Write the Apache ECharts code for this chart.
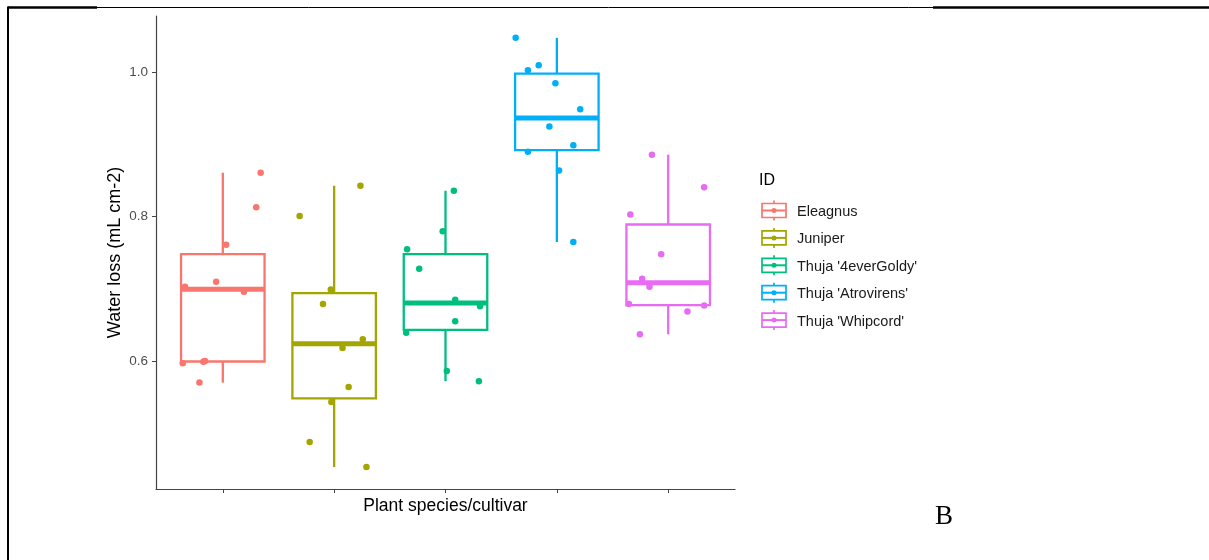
<!DOCTYPE html>
<html>
<head>
<meta charset="utf-8">
<script src="https://cdn.jsdelivr.net/npm/echarts@6/dist/echarts.min.js"></script>
<style>
  html, body { margin: 0; padding: 0; background: #fff; }
  #chart { width: 1209px; height: 560px; }
</style>
</head>
<body>
<div id="chart"></div>
<script>
// categories and colours (ggplot default hue palette)
var categories = ['Eleagnus', 'Juniper', "Thuja '4everGoldy'", "Thuja 'Atrovirens'", "Thuja 'Whipcord'"];
var colors = ['#F8766D', '#A3A500', '#00BF7D', '#00B0F6', '#E76BF3'];

// water loss per plant (mL cm-2)
var eleagnus   = [0.861, 0.813, 0.761, 0.703, 0.710, 0.696, 0.597, 0.599, 0.600, 0.570];
var juniper    = [0.843, 0.801, 0.699, 0.679, 0.630, 0.618, 0.564, 0.543, 0.4875, 0.453];
var goldy      = [0.836, 0.780, 0.755, 0.728, 0.685, 0.676, 0.655, 0.639, 0.586, 0.572];
var atrovirens = [1.048, 1.003, 1.010, 0.985, 0.949, 0.925, 0.899, 0.890, 0.864, 0.765];
var whipcord   = [0.886, 0.841, 0.803, 0.748, 0.714, 0.703, 0.679, 0.677, 0.6685, 0.637];

// horizontal jitter of each point (in category units)
var eleagnusJit   = [0.34, 0.30, 0.03, -0.34, -0.06, 0.19, -0.36, -0.175, -0.16, -0.21];
var juniperJit    = [0.236, -0.31, -0.03, -0.10, 0.257, 0.075, 0.13, -0.025, -0.22, 0.29];
var goldyJit      = [0.075, -0.025, -0.345, -0.236, 0.087, 0.31, 0.087, -0.353, 0.012, 0.30];
var atrovirensJit = [-0.37, -0.26, -0.163, -0.013, 0.21, -0.067, 0.148, -0.26, 0.02, 0.148];
var whipcordJit   = [-0.146, 0.323, -0.34, -0.063, -0.234, -0.168, -0.353, 0.323, 0.173, -0.254];

var yTicks = [0.6, 0.8, 1.0];

var groups = [eleagnus, juniper, goldy, atrovirens, whipcord];
var jitters = [eleagnusJit, juniperJit, goldyJit, atrovirensJit, whipcordJit];

// ggplot-style box stats (type 7 quantiles, whiskers to 1.5 IQR)
function quantile(sorted, p) {
  var h = (sorted.length - 1) * p;
  var lo = Math.floor(h);
  var hi = Math.ceil(h);
  return sorted[lo] + (h - lo) * (sorted[hi] - sorted[lo]);
}
function boxStats(vals) {
  var s = vals.slice().sort(function (a, b) { return a - b; });
  var q1 = quantile(s, 0.25), med = quantile(s, 0.5), q3 = quantile(s, 0.75);
  var iqr = q3 - q1;
  var low = s.filter(function (v) { return v >= q1 - 1.5 * iqr; })[0];
  var upIn = s.filter(function (v) { return v <= q3 + 1.5 * iqr; });
  var high = upIn[upIn.length - 1];
  return [low, q1, med, q3, high];
}

var boxData = [];
var series = [];
for (let i = 0; i < groups.length; i++) {
  var st = boxStats(groups[i]);
  boxData.push([i + 1, st[0], st[1], st[2], st[3], st[4], i]);
}

series.push({
  type: 'custom',
  silent: true,
  renderItem: function (params, api) {
    var x = api.value(0);
    var c = colors[api.value(6)];
    var half = 0.375;
    var pLow = api.coord([x, api.value(1)]);
    var pQ1 = api.coord([x, api.value(2)]);
    var pMed = api.coord([x, api.value(3)]);
    var pQ3 = api.coord([x, api.value(4)]);
    var pHigh = api.coord([x, api.value(5)]);
    var left = api.coord([x - half, api.value(3)])[0];
    var right = api.coord([x + half, api.value(3)])[0];
    var ls = { stroke: c, lineWidth: 2.3, fill: null };
    return {
      type: 'group',
      children: [
        { type: 'line', shape: { x1: pHigh[0], y1: pHigh[1], x2: pQ3[0], y2: pQ3[1] }, style: ls },
        { type: 'line', shape: { x1: pQ1[0], y1: pQ1[1], x2: pLow[0], y2: pLow[1] }, style: ls },
        { type: 'rect', shape: { x: left, y: pQ3[1], width: right - left, height: pQ1[1] - pQ3[1] }, style: ls },
        { type: 'line', shape: { x1: left, y1: pMed[1], x2: right, y2: pMed[1] }, style: { stroke: c, lineWidth: 5 } }
      ]
    };
  },
  data: boxData,
  z: 2
});

for (let i = 0; i < groups.length; i++) {
  var pts = [];
  for (let j = 0; j < groups[i].length; j++) {
    pts.push([i + 1 + jitters[i][j], groups[i][j]]);
  }
  series.push({
    name: categories[i],
    type: 'scatter',
    data: pts,
    symbolSize: 6.5,
    itemStyle: { color: colors[i], opacity: 1 },
    silent: true,
    z: 3
  });
}

// legend built by hand so the key looks like a small boxplot
var graphics = [
  // frame lines of the page
  { type: 'line', shape: { x1: 8, y1: 7.5, x2: 1209, y2: 7.5 }, style: { stroke: '#000', lineWidth: 1 } },
  { type: 'line', shape: { x1: 8, y1: 7.5, x2: 97, y2: 7.5 }, style: { stroke: '#000', lineWidth: 2.5 } },
  { type: 'line', shape: { x1: 933, y1: 7.5, x2: 1209, y2: 7.5 }, style: { stroke: '#000', lineWidth: 2.5 } },
  { type: 'line', shape: { x1: 8, y1: 6.5, x2: 8, y2: 560 }, style: { stroke: '#000', lineWidth: 2 } },
  { type: 'text', left: 935, top: 503, style: { text: 'B', font: '27px "Liberation Serif", serif', fill: '#000' } },
  { type: 'text', x: 759, y: 181, style: { text: 'ID', font: '16px "Liberation Sans", Arial, sans-serif', fill: '#000', verticalAlign: 'middle' } }
];
for (let i = 0; i < categories.length; i++) {
  var cy = 210.5 + i * 27.4;
  var c = colors[i];
  graphics.push(
    { type: 'line', shape: { x1: 774, y1: cy - 10, x2: 774, y2: cy + 10 }, style: { stroke: c, lineWidth: 1.7 } },
    { type: 'rect', shape: { x: 762, y: cy - 7, width: 24, height: 14 }, style: { stroke: c, lineWidth: 1.7, fill: '#fff' } },
    { type: 'line', shape: { x1: 762, y1: cy, x2: 786, y2: cy }, style: { stroke: c, lineWidth: 2 } },
    { type: 'circle', shape: { cx: 774, cy: cy, r: 2.5 }, style: { fill: c } },
    { type: 'text', x: 797, y: cy + 1.5, style: { text: categories[i], font: '14.5px "Liberation Sans", Arial, sans-serif', fill: '#1a1a1a', verticalAlign: 'middle' } }
  );
}

var chart = echarts.init(document.getElementById('chart'));
var option = {
  animation: false,
  backgroundColor: '#fff',
  grid: { left: 156, top: 16, width: 579, height: 473 },
  xAxis: {
    type: 'value',
    min: 0.4,
    max: 5.6,
    name: 'Plant species/cultivar',
    nameLocation: 'middle',
    nameGap: 8,
    nameTextStyle: { color: '#000', fontSize: 17.5, fontFamily: '"Liberation Sans", Arial, sans-serif', verticalAlign: 'top' },
    axisLine: { lineStyle: { color: '#444', width: 1.2 } },
    axisTick: { show: true, length: 4, customValues: [1, 2, 3, 4, 5], lineStyle: { color: '#444' } },
    axisLabel: { show: false },
    splitLine: { show: false }
  },
  yAxis: {
    type: 'value',
    min: 0.4225,
    max: 1.0783,
    name: 'Water loss (mL cm-2)',
    nameLocation: 'middle',
    nameGap: 32,
    nameTextStyle: { color: '#000', fontSize: 18, fontFamily: '"Liberation Sans", Arial, sans-serif' },
    axisLine: { show: true, lineStyle: { color: '#444', width: 1.2 } },
    axisTick: { show: true, length: 4, customValues: yTicks, lineStyle: { color: '#444' } },
    axisLabel: {
      customValues: yTicks,
      margin: 8,
      color: '#4D4D4D',
      fontSize: 13.5,
      fontFamily: '"Liberation Sans", Arial, sans-serif',
      formatter: function (v) { return v.toFixed(1); }
    },
    splitLine: { show: false }
  },
  series: series,
  graphic: graphics
};
chart.setOption(option);
</script>
</body>
</html>
